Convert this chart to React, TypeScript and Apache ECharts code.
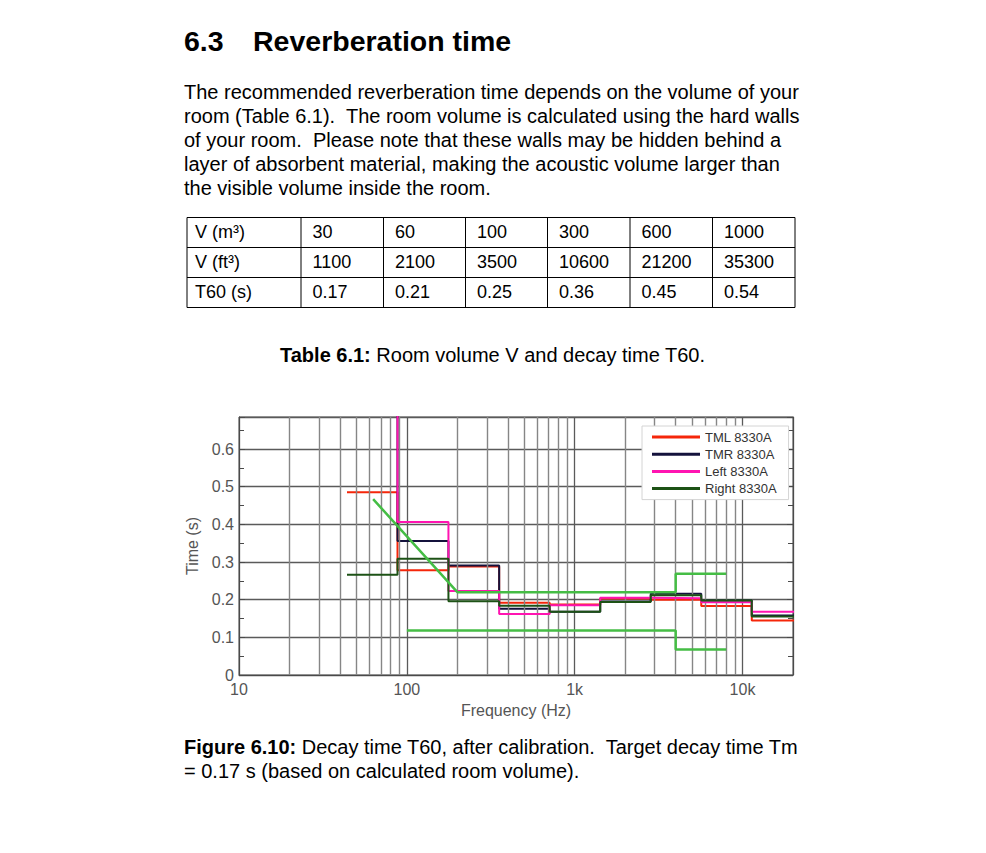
import React, { useEffect, useRef } from "react";
import * as echarts from "echarts";

// ---------- page text ----------
const headingNumber = "6.3";
const headingTitle = "Reverberation time";
const paragraphLines = [
  "The recommended reverberation time depends on the volume of your",
  "room (Table 6.1).  The room volume is calculated using the hard walls",
  "of your room.  Please note that these walls may be hidden behind a",
  "layer of absorbent material, making the acoustic volume larger than",
  "the visible volume inside the room.",
];
const tableRowHeads = ["V (m³)", "V (ft³)", "T60 (s)"];
const tableVolM3 = ["30", "60", "100", "300", "600", "1000"];
const tableVolFt3 = ["1100", "2100", "3500", "10600", "21200", "35300"];
const tableT60 = ["0.17", "0.21", "0.25", "0.36", "0.45", "0.54"];
const tableCaptionBold = "Table 6.1:";
const tableCaptionText = " Room volume V and decay time T60.";
const figCaptionBold = "Figure 6.10:";
const figCaptionLine1 = " Decay time T60, after calibration.  Target decay time Tm";
const figCaptionLine2 = "= 0.17 s (based on calculated room volume).";

// ---------- chart data ----------
const bandEdges = [44, 88, 177, 355, 710, 1420, 2840, 5680, 11360, 22720];
const tmlValues = [0.485, 0.278, 0.288, 0.192, 0.187, 0.203, 0.2, 0.183, 0.145];
const tmrValues = [0.8, 0.356, 0.291, 0.176, 0.168, 0.195, 0.216, 0.198, 0.158];
const leftValues = [0.9, 0.406, 0.223, 0.162, 0.185, 0.205, 0.204, 0.193, 0.168];
const rightValues = [0.266, 0.3085, 0.196, 0.184, 0.168, 0.194, 0.212, 0.198, 0.155];
const tolUpperFreq = [63, 200, 4000, 4000, 8000];
const tolUpperT = [0.467, 0.22, 0.22, 0.269, 0.269];
const tolLowerFreq = [100, 4000, 4000, 8000];
const tolLowerT = [0.118, 0.118, 0.068, 0.068];
const minorGridFreqs = [20, 30, 40, 50, 60, 70, 80, 90, 200, 300, 400, 500, 600, 700, 800, 900, 2000, 3000, 4000, 5000, 6000, 7000, 8000, 9000];
const xTickValues = [10, 100, 1000, 10000];
const xTickLabels = ["10", "100", "1k", "10k"];
const seriesNames = ["TML 8330A", "TMR 8330A", "Left 8330A", "Right 8330A"];
const seriesColors = ["#f5260a", "#14123c", "#ff14b1", "#1d5216"];

const FONT = "Liberation Sans";

function stepData(vals: number[]) {
  return bandEdges.map((e, i) => [e, vals[Math.min(i, vals.length - 1)]]);
}

function buildGraphic() {
  const els: any[] = [];
  const txt = (x: number, y: number, text: string, fs: number, extra: any = {}) => ({
    type: "text",
    x,
    y,
    silent: true,
    style: { text, fontSize: fs, fontFamily: FONT, fill: "#000", verticalAlign: "middle", align: "left", ...extra },
  });
  els.push(txt(184, 41, headingNumber, 28.5, { fontWeight: "bold" }));
  els.push(txt(253, 41, headingTitle, 28.5, { fontWeight: "bold" }));
  paragraphLines.forEach((l, i) => els.push(txt(184, 92 + i * 24, l, 20)));

  // table
  const rowYs = [217.5, 247.5, 277.5, 307.5];
  const colXs = [187, 301, 383.5, 465.5, 547.5, 630, 712.5, 795];
  rowYs.forEach((y) =>
    els.push({ type: "line", silent: true, shape: { x1: colXs[0], y1: y, x2: colXs[colXs.length - 1], y2: y }, style: { stroke: "#000", lineWidth: 1 } })
  );
  colXs.forEach((x) =>
    els.push({ type: "line", silent: true, shape: { x1: x, y1: rowYs[0], x2: x, y2: rowYs[rowYs.length - 1] }, style: { stroke: "#000", lineWidth: 1 } })
  );
  const rows = [tableVolM3, tableVolFt3, tableT60];
  rows.forEach((row, r) => {
    const cy = (rowYs[r] + rowYs[r + 1]) / 2 - 0.5;
    els.push(txt(colXs[0] + 8, cy, tableRowHeads[r], 18));
    row.forEach((v, c) => els.push(txt(colXs[c + 1] + 11.5, cy, v, 18)));
  });

  // captions
  els.push(
    txt(280, 355, `{b|${tableCaptionBold}}${tableCaptionText}`, 20, {
      rich: { b: { fontWeight: "bold", fontSize: 20, fontFamily: FONT, fill: "#000" } },
    })
  );
  els.push(
    txt(184, 747, `{b|${figCaptionBold}}${figCaptionLine1}`, 20, {
      rich: { b: { fontWeight: "bold", fontSize: 20, fontFamily: FONT, fill: "#000" } },
    })
  );
  els.push(txt(184, 771, figCaptionLine2, 20));
  return els;
}

export default function App() {
  const ref = useRef<HTMLDivElement>(null);
  useEffect(() => {
    if (!ref.current) return;
    const chart = echarts.init(ref.current, null, { renderer: "svg" });
    const valueSeries = [tmlValues, tmrValues, leftValues, rightValues].map((vals, i) => ({
      name: seriesNames[i],
      type: "line",
      step: "end",
      data: stepData(vals),
      showSymbol: false,
      symbol: "none",
      lineStyle: { color: seriesColors[i], width: 2 },
      itemStyle: { color: seriesColors[i] },
      z: 3 + i,
      clip: true,
    }));
    const option: any = {
      animation: false,
      grid: { left: 239, right: 193, top: 417, bottom: 178, show: true, borderColor: "#4a4a4a", borderWidth: 1, backgroundColor: "transparent" },
      legend: {
        data: seriesNames,
        orient: "vertical",
        left: 642,
        top: 426,
        z: 60,
        itemWidth: 48,
        itemHeight: 3,
        itemGap: 3.2,
        icon: "rect",
        padding: [4, 12, 4, 10],
        backgroundColor: "#ffffff",
        borderColor: "#d4d4d4",
        borderWidth: 1,
        borderRadius: 0,
        textStyle: { fontSize: 13, color: "#333", fontFamily: FONT, lineHeight: 14 },
      },
      xAxis: {
        type: "log",
        logBase: 10,
        min: 10,
        max: 20000,
        name: "Frequency (Hz)",
        nameLocation: "middle",
        nameGap: 27,
        nameTextStyle: { fontSize: 16, color: "#555", fontFamily: FONT },
        axisLine: { show: true, lineStyle: { color: "#4a4a4a" } },
        axisTick: { show: false },
        axisLabel: {
          margin: 6,
          fontSize: 16,
          color: "#555",
          fontFamily: FONT,
          formatter: (v: number) => {
            const i = xTickValues.findIndex((t) => Math.abs(v - t) / t < 1e-6);
            return i >= 0 ? xTickLabels[i] : "";
          },
        },
        splitLine: { show: true, lineStyle: { color: "#5a5a5a", width: 1.3 } },
      },
      yAxis: [
        {
          type: "value",
          min: 0,
          max: 0.685,
          interval: 0.1,
          name: "Time (s)",
          nameLocation: "middle",
          nameGap: 34,
          nameTextStyle: { fontSize: 16, color: "#555", fontFamily: FONT },
          axisLine: { show: true, lineStyle: { color: "#4a4a4a" } },
          axisTick: { show: true, inside: true, length: 6, lineStyle: { color: "#4a4a4a" } },
          minorTick: { show: true, splitNumber: 2, length: 5, lineStyle: { color: "#4a4a4a" } },
          axisLabel: {
            margin: 5,
            fontSize: 16,
            color: "#555",
            fontFamily: FONT,
            formatter: (v: number) => {
              const k = Math.round(v * 10);
              if (Math.abs(v * 10 - k) > 1e-6) return "";
              return k === 0 ? "0" : (k / 10).toFixed(1);
            },
          },
          splitLine: { show: true, lineStyle: { color: "#5a5a5a", width: 1.3 } },
        },
        {
          type: "value",
          position: "right",
          min: 0,
          max: 0.685,
          interval: 0.1,
          axisLine: { show: true, lineStyle: { color: "#4a4a4a" } },
          axisTick: { show: true, inside: true, length: 6, lineStyle: { color: "#4a4a4a" } },
          minorTick: { show: true, splitNumber: 2, length: 5, lineStyle: { color: "#4a4a4a" } },
          axisLabel: { show: false },
          splitLine: { show: false },
        },
      ],
      series: [
        {
          name: "minor grid",
          type: "line",
          data: [],
          silent: true,
          z: 1,
          markLine: {
            silent: true,
            symbol: "none",
            animation: false,
            label: { show: false },
            lineStyle: { color: "#868686", width: 1.4, type: "solid" },
            data: minorGridFreqs.map((f) => ({ xAxis: f })),
          },
        },
        ...valueSeries,
        {
          name: "Tolerance upper",
          type: "line",
          data: tolUpperFreq.map((f, i) => [f, tolUpperT[i]]),
          showSymbol: false,
          symbol: "none",
          lineStyle: { color: "#45bd45", width: 2.5 },
          z: 10,
        },
        {
          name: "Tolerance lower",
          type: "line",
          data: tolLowerFreq.map((f, i) => [f, tolLowerT[i]]),
          showSymbol: false,
          symbol: "none",
          lineStyle: { color: "#45bd45", width: 2.5 },
          z: 10,
        },
      ],
      graphic: buildGraphic(),
    };
    chart.setOption(option);
    return () => chart.dispose();
  }, []);
  return <div ref={ref} style={{ position: "absolute", left: 0, top: 0, width: 986, height: 853, background: "#fff" }} />;
}
